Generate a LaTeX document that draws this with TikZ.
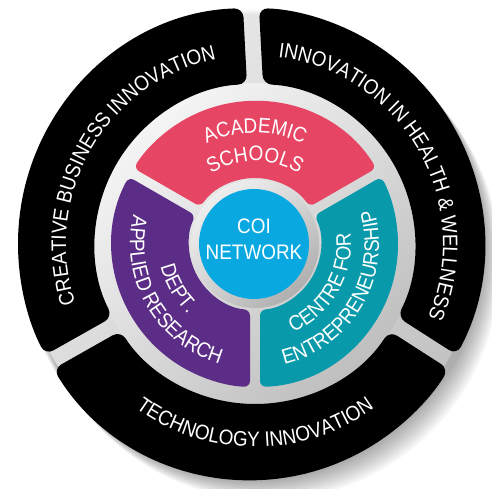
\documentclass[tikz,border=0pt]{standalone}
\usepackage{fontspec}
\setmainfont[FakeStretch=0.9]{Liberation Sans}
\usetikzlibrary{decorations.text,shadings}
\definecolor{pinkseg}{RGB}{230,69,100}
\definecolor{purpseg}{RGB}{92,45,135}
\definecolor{tealseg}{RGB}{8,154,170}
\definecolor{coiblue}{RGB}{10,168,224}
\newcommand\labfont{\color{white}\fontsize{21}{25}\selectfont}
% #1 start angle, #2 end angle, #3 inner r, #4 outer x-radius, #5 outer y-radius, #6 outer x-offset, #7 half gap, #8 style
\newcommand\ringpiece[8]{%
  \pgfmathsetmacro\aO{#1+asin(#7/#4)}%
  \pgfmathsetmacro\bO{#2-asin(#7/#4)}%
  \pgfmathsetmacro\aI{#1+asin(#7/#3)}%
  \pgfmathsetmacro\bI{#2-asin(#7/#3)}%
  \fill[#8] ({#6+#4*cos(\aO)},{#5*sin(\aO)}) arc[start angle=\aO, end angle=\bO, x radius=#4, y radius=#5]
     -- (\bI:#3) arc[start angle=\bI, end angle=\aI, radius=#3] -- cycle;
}
\begin{document}
\begin{tikzpicture}[x=1pt,y=1pt,
  arctext/.style={decorate, decoration={text along path, text align=center, text={|\labfont|#1}}},
  blackpiece/.style={fill=black, rounded corners=9pt},
  colpiece/.style={fill=#1, rounded corners=6pt}]
\useasboundingbox (0,0) rectangle (492,489);
\fill[white] (0,0) rectangle (492,489);
\begin{scope}[shift={(255,245)}]
  % soft drop shadow to the lower right
  \foreach \i in {1,...,9}
    \fill[black, opacity=0.04] ({-4+1.8*\i},{-2.2*\i}) ellipse [x radius=233, y radius=236];
  % grey base seen through the gaps
  \shade[upper left=gray!10, upper right=gray!30, lower left=gray!30, lower right=gray!55]
    (-4,0) ellipse [x radius=228, y radius=230];
  % metallic inner disk
  \shade[upper left=white, upper right=gray!25, lower left=gray!30, lower right=gray!60]
    (0,0) circle (161);
  % outer black segments
  \ringpiece{90}{210}{160}{233}{236}{-4}{8}{blackpiece}
  \ringpiece{210}{330}{160}{233}{236}{-4}{8}{blackpiece}
  \ringpiece{-30}{90}{160}{233}{236}{-4}{8}{blackpiece}
  % coloured inner segments
  \ringpiece{30}{150}{66}{143}{143}{0}{5}{colpiece=pinkseg}
  \ringpiece{150}{270}{66}{143}{143}{0}{5}{colpiece=purpseg}
  \ringpiece{-90}{30}{66}{143}{143}{0}{5}{colpiece=tealseg}
  % ring round the centre
  \shade[upper left=gray!5, upper right=gray!30, lower left=gray!35, lower right=gray!75]
    (0,0) circle (64);
  \fill[coiblue] (-1,0) circle (55);
  \node[text=white, align=center, font=\fontsize{21}{26}\selectfont, inner sep=0pt] (coi) at (-1,5) {COI\\NETWORK};
  % inner texts
  \path[arctext={ACADEMIC}] (150:111) arc[start angle=150, end angle=30, radius=111];
  \path[arctext={SCHOOLS}] (150:83) arc[start angle=150, end angle=30, radius=83];
  \path[arctext={DEPT.}] (150:97) arc[start angle=150, end angle=270, radius=97];
  \path[arctext={APPLIED RESEARCH}] (150:125) arc[start angle=150, end angle=270, radius=125];
  \path[arctext={CENTRE FOR}] (-90:96) arc[start angle=-90, end angle=30, radius=96];
  \path[arctext={ENTREPRENEURSHIP}] (-90:124) arc[start angle=-90, end angle=30, radius=124];
  % outer texts
  \path[arctext={CREATIVE BUSINESS INNOVATION}] (210:189) arc[start angle=210, end angle=90, radius=189];
  \path[arctext={INNOVATION IN HEALTH {\&} WELLNESS}] (90:188) arc[start angle=90, end angle=-30, radius=188];
  \path[arctext={TECHNOLOGY INNOVATION}] (210:203) arc[start angle=210, end angle=330, radius=203];
\end{scope}
\end{tikzpicture}
\end{document}
